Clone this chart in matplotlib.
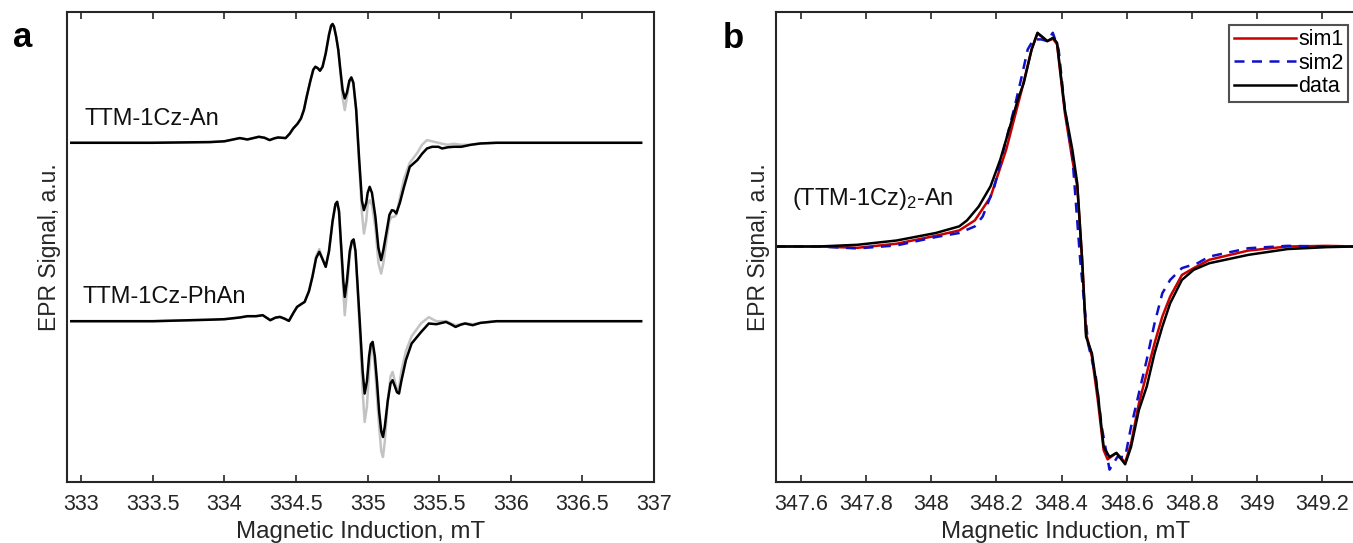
import matplotlib
matplotlib.use("Agg")
import matplotlib.pyplot as plt
from matplotlib.ticker import FormatStrFormatter

plt.rcParams['font.family'] = ['Liberation Sans', 'DejaVu Sans']
plt.rcParams['mathtext.fontset'] = 'custom'
plt.rcParams['mathtext.rm'] = 'Liberation Sans'
plt.rcParams['mathtext.default'] = 'regular'

# ---------------- Panel a data ----------------
field_an = [332.93, 333.5, 333.9, 334.0, 334.107, 334.16, 334.24, 334.28, 334.315, 334.35,
            334.374, 334.40, 334.427, 334.455, 334.48, 334.51, 334.534, 334.555, 334.574, 334.60,
            334.62, 334.635, 334.652, 334.667, 334.685, 334.707, 334.73, 334.745, 334.755, 334.765,
            334.78, 334.795, 334.81, 334.825, 334.84, 334.855, 334.872, 334.886, 334.90, 334.92,
            334.94, 334.96, 334.974, 334.99, 335.0, 335.014, 335.03, 335.054, 335.075, 335.094,
            335.11, 335.134, 335.152, 335.169, 335.185, 335.2, 335.225, 335.254, 335.294, 335.347,
            335.38, 335.414, 335.45, 335.494, 335.52, 335.56, 335.6, 335.654, 335.72, 335.787,
            335.9, 336.054, 336.5, 336.91]
data_an = [0, 0, 0.007, 0.015, 0.047, 0.033, 0.06, 0.05, 0.027, 0.045,
           0.053, 0.05, 0.047, 0.09, 0.143, 0.19, 0.243, 0.33, 0.46, 0.62,
           0.73, 0.76, 0.745, 0.72, 0.76, 0.893, 1.08, 1.17, 1.187, 1.16,
           1.06, 0.927, 0.72, 0.53, 0.443, 0.5, 0.62, 0.653, 0.6, 0.327,
           -0.15, -0.58, -0.673, -0.6, -0.5, -0.44, -0.5, -0.74, -1.05, -1.173,
           -1.07, -0.873, -0.72, -0.673, -0.68, -0.707, -0.6, -0.44, -0.24, -0.173,
           -0.11, -0.057, -0.04, -0.04, -0.057, -0.045, -0.04, -0.04, -0.02, -0.007,
           0, 0, 0, 0]
sim_an = [0, 0, 0.007, 0.015, 0.047, 0.033, 0.06, 0.05, 0.027, 0.045,
          0.053, 0.05, 0.047, 0.09, 0.143, 0.19, 0.243, 0.33, 0.46, 0.62,
          0.73, 0.76, 0.745, 0.72, 0.76, 0.893, 1.08, 1.17, 1.187, 1.16,
          1.06, 0.927, 0.70, 0.45, 0.327, 0.45, 0.60, 0.653, 0.6, 0.327,
          -0.2, -0.7, -0.907, -0.78, -0.62, -0.573, -0.62, -0.85, -1.2, -1.307,
          -1.2, -0.95, -0.78, -0.74, -0.74, -0.72, -0.55, -0.36, -0.2, -0.1,
          -0.02, 0.027, 0.015, 0.0, -0.01, -0.02, -0.01, -0.02, -0.02, -0.007,
          0, 0, 0, 0]

field_phan = [332.93, 333.5, 333.9, 334.0, 334.107, 334.16, 334.22, 334.267, 334.32, 334.355,
              334.387, 334.42, 334.45, 334.48, 334.507, 334.535, 334.56, 334.59, 334.614, 334.64,
              334.662, 334.685, 334.707, 334.73, 334.755, 334.775, 334.787, 334.80, 334.815, 334.83,
              334.84, 334.855, 334.875, 334.89, 334.902, 334.915, 334.93, 334.947, 334.965, 334.979,
              334.995, 335.01, 335.022, 335.035, 335.05, 335.065, 335.08, 335.095, 335.107, 335.12,
              335.14, 335.16, 335.174, 335.19, 335.205, 335.219, 335.235, 335.267, 335.307, 335.374,
              335.427, 335.48, 335.547, 335.58, 335.614, 335.65, 335.68, 335.734, 335.787, 335.9,
              336.054, 336.5, 336.91]
data_phan = [0, 0, 0.015, 0.02, 0.037, 0.05, 0.05, 0.06, 0.01, 0.035,
             0.043, 0.025, 0.003, 0.08, 0.143, 0.17, 0.193, 0.3, 0.443, 0.63,
             0.693, 0.62, 0.543, 0.7, 1.0, 1.17, 1.193, 1.1, 0.75, 0.4,
             0.243, 0.4, 0.7, 0.8, 0.817, 0.7, 0.35, -0.057, -0.5, -0.723,
             -0.6, -0.35, -0.23, -0.207, -0.35, -0.6, -0.9, -1.1, -1.157, -1.05,
             -0.8, -0.62, -0.59, -0.65, -0.71, -0.723, -0.6, -0.39, -0.223, -0.107,
             -0.023, -0.03, -0.007, -0.03, -0.057, -0.035, -0.023, -0.04, -0.017, 0,
             0, 0, 0]
sim_phan = [0, 0, 0.015, 0.02, 0.037, 0.05, 0.05, 0.06, 0.01, 0.035,
            0.043, 0.025, 0.003, 0.08, 0.143, 0.17, 0.193, 0.3, 0.443, 0.65,
            0.72, 0.62, 0.543, 0.7, 1.0, 1.17, 1.193, 1.08, 0.7, 0.3,
            0.06, 0.3, 0.65, 0.8, 0.817, 0.7, 0.3, -0.15, -0.7, -1.007,
            -0.85, -0.5, -0.3, -0.25, -0.45, -0.75, -1.05, -1.3, -1.357, -1.2,
            -0.8, -0.55, -0.507, -0.6, -0.68, -0.67, -0.5, -0.3, -0.15, -0.02,
            0.04, 0.0, 0.0, -0.02, -0.04, -0.03, -0.02, -0.03, -0.017, 0,
            0, 0, 0]

offset_an = 3.39
offset_phan = 1.607

# ---------------- Panel b data ----------------
field_b_data = [347.524, 347.654, 347.774, 347.894, 348.014, 348.086, 348.110, 348.146, 348.182, 348.212,
                348.242, 348.266, 348.284, 348.308, 348.326, 348.344, 348.356, 348.374, 348.386, 348.41,
                348.433, 348.448, 348.463, 348.475, 348.493, 348.511, 348.529, 348.547, 348.568, 348.595,
                348.613, 348.637, 348.661, 348.685, 348.709, 348.733, 348.769, 348.805, 348.853, 348.973,
                349.093, 349.213, 349.30]
signal_b_data = [0, 0, 0.008, 0.028, 0.063, 0.094, 0.122, 0.187, 0.281, 0.406,
                 0.562, 0.687, 0.764, 0.920, 0.998, 0.975, 0.959, 0.975, 0.951, 0.640,
                 0.452, 0.296, -0.062, -0.421, -0.499, -0.686, -0.936, -0.983, -0.964, -1.017,
                 -0.936, -0.764, -0.655, -0.499, -0.374, -0.265, -0.156, -0.109, -0.078, -0.039,
                 -0.012, -0.003, 0]

field_b_sim1 = [347.524, 347.654, 347.774, 347.894, 348.014, 348.086, 348.134, 348.182, 348.23, 348.278,
                348.308, 348.326, 348.356, 348.374, 348.386, 348.41, 348.433, 348.448, 348.463, 348.475,
                348.493, 348.511, 348.529, 348.541, 348.568, 348.595, 348.613, 348.637, 348.661, 348.685,
                348.709, 348.733, 348.769, 348.805, 348.853, 348.973, 349.093, 349.213, 349.30]
signal_b_sim1 = [0, 0, -0.006, 0.013, 0.05, 0.075, 0.122, 0.231, 0.452, 0.733,
                 0.920, 0.995, 0.959, 0.970, 0.944, 0.624, 0.405, 0.281, -0.062, -0.406,
                 -0.515, -0.717, -0.951, -0.994, -0.964, -1.008, -0.92, -0.733, -0.593, -0.452,
                 -0.327, -0.234, -0.133, -0.101, -0.062, -0.019, 0, 0.003, 0]

field_b_sim2 = [347.524, 347.654, 347.774, 347.894, 348.014, 348.086, 348.134, 348.158, 348.194, 348.23,
                348.254, 348.278, 348.296, 348.314, 348.338, 348.356, 348.373, 348.391, 348.41, 348.433,
                348.457, 348.481, 348.505, 348.523, 348.547, 348.571, 348.595, 348.613, 348.637, 348.661,
                348.685, 348.709, 348.733, 348.769, 348.817, 348.853, 348.973, 349.093, 349.213, 349.30]
signal_b_sim2 = [0, 0, -0.009, 0.005, 0.044, 0.063, 0.094, 0.140, 0.281, 0.499,
                 0.640, 0.796, 0.920, 0.967, 0.967, 0.959, 0.998, 0.920, 0.640, 0.421,
                 -0.062, -0.452, -0.608, -0.842, -1.042, -0.983, -0.983, -0.842, -0.686, -0.53,
                 -0.359, -0.218, -0.156, -0.101, -0.078, -0.047, -0.008, 0.003, 0, 0]

ticks_a = [333, 333.5, 334, 334.5, 335, 335.5, 336, 336.5, 337]
ticks_b = [347.6, 347.8, 348.0, 348.2, 348.4, 348.6, 348.8, 349.0, 349.2]

# ---------------- Figure ----------------
W, H = 1353, 543
fig = plt.figure(figsize=(W / 100, H / 100), dpi=100)

def px_axes(l, t, r, b):
    return fig.add_axes([l / W, 1 - b / H, (r - l) / W, (b - t) / H])

ax_a = px_axes(67, 12, 654, 482)
ax_b = px_axes(776, 12, 1356, 482)

spine_col = '#262626'
for ax in (ax_a, ax_b):
    for s in ax.spines.values():
        s.set_linewidth(1.5)
        s.set_color(spine_col)
    ax.tick_params(axis='x', which='both', direction='in', top=True, bottom=True,
                   length=5, width=1.2, color=spine_col, labelsize=15.5, pad=9,
                   labelcolor='#262626')
    ax.tick_params(axis='y', left=False, right=False, labelleft=False)
    ax.xaxis.set_major_formatter(FormatStrFormatter('%g'))

gray = '#c3c3c3'
lw = 1.8
ax_a.plot(field_an, [v + offset_an for v in sim_an], color=gray, lw=lw)
ax_a.plot(field_an, [v + offset_an for v in data_an], color='black', lw=lw)
ax_a.plot(field_phan, [v + offset_phan for v in sim_phan], color=gray, lw=lw)
ax_a.plot(field_phan, [v + offset_phan for v in data_phan], color='black', lw=lw)
ax_a.set_xlim(332.9, 337.0)
ax_a.set_ylim(0, 4.697)
ax_a.set_xticks(ticks_a)
ax_a.text(333.019, 3.567, 'TTM-1Cz-An', fontsize=17, ha='left', va='baseline', color='#111111')
ax_a.text(333.007, 1.787, 'TTM-1Cz-PhAn', fontsize=17, ha='left', va='baseline', color='#111111')

ax_b.plot(field_b_sim1, signal_b_sim1, color='#c80000', lw=lw, label='sim1')
ax_b.plot(field_b_sim2, signal_b_sim2, color='#1010c8', lw=lw, ls=(0, (4, 3)), label='sim2')
ax_b.plot(field_b_data, signal_b_data, color='black', lw=lw, label='data')
ax_b.set_xlim(347.524, 349.303)
ax_b.set_ylim(-1.0997, 1.095)
ax_b.set_xticks(ticks_b)
ax_b.text(347.574, 0.195, '(TTM-1Cz)$_{2}$-An', fontsize=17, ha='left', va='baseline', color='#111111')

leg = ax_b.legend(loc='upper right', bbox_to_anchor=((1348 - 776) / 580, 1 - (25 - 12) / 470),
                  fontsize=15.5, frameon=True, fancybox=False, handlelength=2.9,
                  handletextpad=0.1, borderpad=0.2, labelspacing=0.12, borderaxespad=0)
leg.get_frame().set_edgecolor(spine_col)
leg.get_frame().set_linewidth(1.5)

for ax in (ax_a, ax_b):
    ax.set_xlabel('Magnetic Induction, mT', fontsize=17.3, labelpad=4, color='#262626')
    ax.set_ylabel('EPR Signal, a.u.', fontsize=16.5, color='#262626')
ax_a.yaxis.set_label_coords((61 - 67) / 587, 0.5)
ax_b.yaxis.set_label_coords((770 - 776) / 580, 0.5)

fig.text(13 / W, 1 - 47 / H, 'a', fontsize=25, fontweight='bold', ha='left', va='baseline')
fig.text(723 / W, 1 - 48 / H, 'b', fontsize=25, fontweight='bold', ha='left', va='baseline')

fig.savefig('out.png', dpi=100)
